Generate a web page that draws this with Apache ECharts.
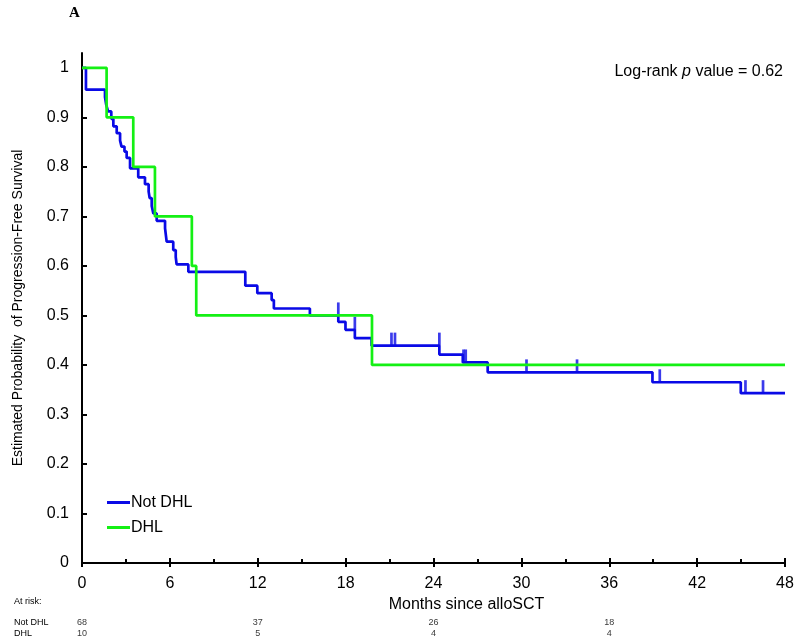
<!DOCTYPE html>
<html>
<head>
<meta charset="utf-8">
<script src="https://cdn.jsdelivr.net/npm/echarts@6/dist/echarts.min.js"></script>
<style>html,body{margin:0;padding:0;background:#fff;}#c{width:800px;height:642px;}</style>
</head>
<body>
<div id="c"></div>
<script>
// Kaplan-Meier step points: [months, survival]
const notDhlSteps = [
  [0,1.0],[0.27,0.956],[1.57,0.941],[1.65,0.926],[1.78,0.912],[2.0,0.897],[2.14,0.882],[2.37,0.868],
  [2.6,0.853],[2.7,0.841],[2.9,0.831],[3.05,0.818],[3.28,0.797],[3.84,0.779],[4.3,0.765],
  [4.55,0.750],[4.62,0.737],[4.76,0.721],[4.87,0.706],[5.1,0.691],[5.67,0.676],[5.78,0.649],
  [6.23,0.632],[6.4,0.618],[6.46,0.603],[7.26,0.588],[11.15,0.560],[11.97,0.545],[12.95,0.531],
  [13.1,0.514],[15.56,0.500],[17.5,0.487],[17.99,0.471],[18.63,0.454],[19.77,0.439],
  [24.4,0.421],[26.0,0.405],[27.7,0.385],[38.95,0.365],[44.98,0.343],[48,0.343]
];
const dhlSteps = [
  [0,1.0],[1.68,0.9],[3.5,0.8],[4.98,0.7],[7.5,0.6],[7.8,0.5],[19.8,0.4],[48,0.4]
];
// censoring marks for Not DHL: [months, survival]
const notDhlCensored = [
  [17.5,0.500],[18.63,0.471],[21.13,0.439],[21.37,0.439],[24.4,0.439],
  [26.05,0.405],[26.2,0.405],[30.35,0.385],[33.8,0.385],[39.45,0.365],[45.3,0.343],[46.5,0.343]
];
// numbers at risk
const riskTimes = [0, 12, 24, 36];
const riskNotDhl = [68, 37, 26, 18];
const riskDhl = [10, 5, 4, 4];
const riskRows = ['DHL', 'Not DHL'];
const yTicks = [0,0.1,0.2,0.3,0.4,0.5,0.6,0.7,0.8,0.9,1];

const BLUE = '#0a0ae6';
const GREEN = '#14f014';
const FONT = '"Liberation Sans", Arial, sans-serif';
const NARROW = '"Liberation Sans Narrow", "Liberation Sans", Arial, sans-serif';

const riskData = [];
riskTimes.forEach((t, i) => {
  riskData.push([t, 'Not DHL', riskNotDhl[i]]);
  riskData.push([t, 'DHL', riskDhl[i]]);
});

const chart = echarts.init(document.getElementById('c'), null, {renderer: 'canvas'});
chart.setOption({
  animation: false,
  backgroundColor: '#ffffff',
  grid: [
    {left: 82, right: 15, top: 53, bottom: 79},
    {left: 82, right: 15, top: 617, height: 22}
  ],
  xAxis: [
    {
      gridIndex: 0, type: 'value', min: 0, max: 48, interval: 6,
      name: 'Months since alloSCT', nameLocation: 'middle', nameGap: 29,
      nameTextStyle: {fontFamily: FONT, fontSize: 16, color: '#000', padding: [0, 0, 0, 66]},
      axisLine: {show: true, lineStyle: {color: '#000', width: 2}},
      axisTick: {show: true, inside: true, length: 5, lineStyle: {color: '#000', width: 2}},
      minorTick: {show: true, splitNumber: 2, length: 4, lineStyle: {color: '#000', width: 2}},
      axisLabel: {fontFamily: FONT, fontSize: 16, color: '#000', margin: 13},
      splitLine: {show: false}
    },
    {
      gridIndex: 1, type: 'value', min: 0, max: 48, show: false
    },
    {
      gridIndex: 0, type: 'value', min: 0, max: 48, interval: 6, position: 'bottom',
      axisLine: {show: false}, axisLabel: {show: false}, splitLine: {show: false},
      axisTick: {show: true, inside: false, length: 4, lineStyle: {color: '#000', width: 2}}
    }
  ],
  yAxis: [
    {
      gridIndex: 0, type: 'value', min: 0, max: 1.03,
      name: 'Estimated Probability  of Progression-Free Survival', nameLocation: 'middle', nameGap: 57,
      nameTextStyle: {fontFamily: FONT, fontSize: 14, color: '#000'},
      axisLine: {show: true, lineStyle: {color: '#000', width: 2}},
      axisTick: {show: true, inside: true, length: 5, customValues: yTicks, lineStyle: {color: '#000', width: 2}},
      axisLabel: {
        fontFamily: FONT, fontSize: 16, color: '#000', margin: 13, customValues: yTicks,
        formatter: v => (v === 0 ? '0' : v === 1 ? '1' : v.toFixed(1))
      },
      splitLine: {show: false}
    },
    {
      gridIndex: 1, type: 'category', data: riskRows,
      axisLine: {show: false}, axisTick: {show: false}, splitLine: {show: false},
      axisLabel: {interval: 0, fontFamily: NARROW, fontSize: 9, color: '#000', align: 'left', margin: 68}
    }
  ],
  legend: {
    data: [{name: 'Not DHL'}, {name: 'DHL'}],
    icon: 'rect', padding: 0,
    orient: 'vertical', left: 107, top: 494, itemWidth: 23, itemHeight: 3, itemGap: 8,
    textStyle: {fontFamily: FONT, fontSize: 16, color: '#000', padding: [0, 0, 0, -4], lineHeight: 17}
  },
  graphic: [
    {type: 'text', left: 69, top: 6, style: {text: 'A', font: 'bold 15px "Liberation Serif", "Times New Roman", serif', fill: '#000'}},
    {type: 'text', left: 14, top: 597, style: {text: 'At risk:', font: '9px ' + NARROW, fill: '#000'}},
    {type: 'text', right: 17, top: 64, style: {
      text: 'Log-rank {i|p} value = 0.62', font: '16px ' + FONT, fill: '#000',
      rich: {i: {fontStyle: 'italic', fontFamily: FONT, fontSize: 16, fill: '#000'}}
    }}
  ],
  series: [
    {
      name: 'Not DHL', type: 'line', step: 'end', data: notDhlSteps, symbol: 'none',
      xAxisIndex: 0, yAxisIndex: 0,
      lineStyle: {color: BLUE, width: 2.7}, itemStyle: {color: BLUE}, z: 2
    },
    {
      name: 'Not DHL censored', type: 'scatter', data: notDhlCensored,
      xAxisIndex: 0, yAxisIndex: 0,
      symbol: 'rect', symbolSize: [2.7, 13], symbolOffset: [0, '-50%'],
      itemStyle: {color: BLUE}, z: 2
    },
    {
      name: 'DHL', type: 'line', step: 'end', data: dhlSteps, symbol: 'none',
      xAxisIndex: 0, yAxisIndex: 0,
      lineStyle: {color: GREEN, width: 2.7}, itemStyle: {color: GREEN}, z: 3
    },
    {
      name: 'At risk', type: 'scatter', data: riskData,
      xAxisIndex: 1, yAxisIndex: 1, symbolSize: 0, itemStyle: {color: 'rgba(0,0,0,0)'},
      label: {show: true, position: 'inside', formatter: p => String(p.value[2]),
        fontFamily: NARROW, fontSize: 9, color: '#000'}
    }
  ]
});
</script>
</body>
</html>
